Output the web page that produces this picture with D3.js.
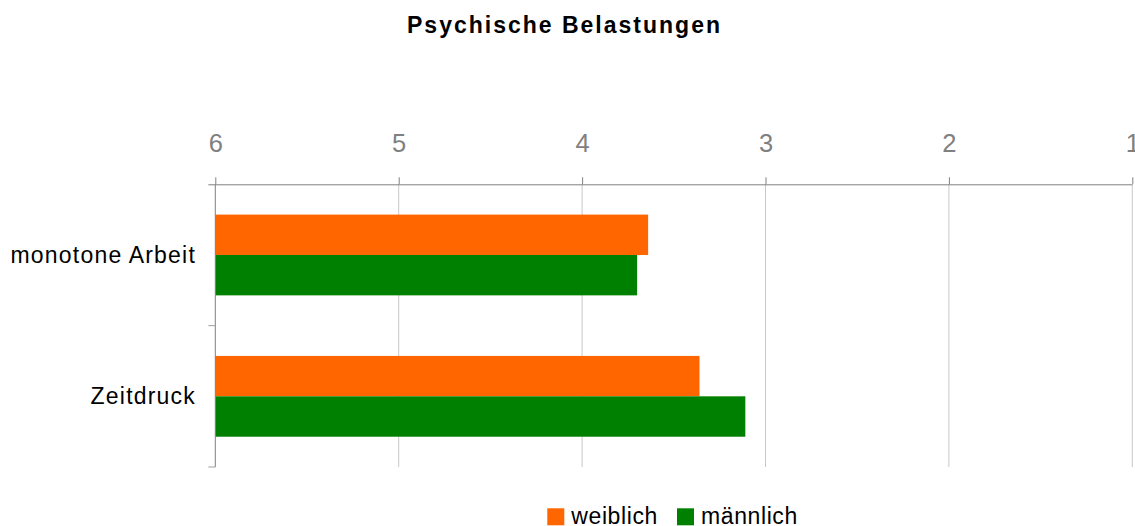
<!DOCTYPE html>
<html>
<head>
<meta charset="utf-8">
<script src="https://cdn.jsdelivr.net/npm/d3@7"></script>
<style>
  html, body { margin: 0; padding: 0; background: #fff; }
  svg { display: block; font-family: "Liberation Sans", Arial, sans-serif; }
</style>
</head>
<body>
<svg id="chart" width="1135" height="526"></svg>
<script>
// Average ratings of psychological strain (scale 6 → 1)
const categories = ["monotone Arbeit", "Zeitdruck"];
const seriesNames = ["weiblich", "männlich"];
const weiblich = [3.64, 3.36];
const maennlich = [3.70, 3.11];
const tickValues = [6, 5, 4, 3, 2, 1];
const colors = ["#ff6600", "#008000"];

const svg = d3.select("#chart");
const margin = { left: 215.3, right: 2.7, top: 184.3, bottom: 59 };
const W = 1135, H = 526;

const x = d3.scaleLinear()
  .domain([6, 1])
  .range([margin.left, W - margin.right]);

const y0 = d3.scaleBand()
  .domain(categories)
  .range([margin.top, H - margin.bottom])
  .padding(0);

const y1 = d3.scaleBand()
  .domain(seriesNames)
  .range([0, y0.bandwidth()])
  .paddingInner(0)
  .paddingOuter(0.75);

const rows = categories.map((c, i) => ({
  category: c,
  values: [
    { name: seriesNames[0], value: weiblich[i] },
    { name: seriesNames[1], value: maennlich[i] }
  ]
}));
const color = d3.scaleOrdinal().domain(seriesNames).range(colors);

// Title
svg.append("text")
  .attr("x", 564.5)
  .attr("y", 32.5)
  .attr("text-anchor", "middle")
  .style("font-size", "23px")
  .style("font-weight", "bold")
  .style("letter-spacing", "2px")
  .attr("fill", "#000")
  .text("Psychische Belastungen");

// Vertical gridlines
svg.append("g")
  .selectAll("line")
  .data(tickValues.filter(v => v !== 6))
  .join("line")
  .attr("x1", d => x(d)).attr("x2", d => x(d))
  .attr("y1", margin.top).attr("y2", H - margin.bottom)
  .attr("stroke", "#c8c8c8")
  .attr("stroke-width", 1);

// Bars
const groups = svg.append("g")
  .selectAll("g")
  .data(rows)
  .join("g")
  .attr("transform", d => `translate(0,${y0(d.category)})`);

groups.selectAll("rect")
  .data(d => d.values)
  .join("rect")
  .attr("x", x(6))
  .attr("y", d => y1(d.name))
  .attr("width", d => x(d.value) - x(6))
  .attr("height", y1.bandwidth())
  .attr("fill", d => color(d.name));

// Top value axis
const xAxis = d3.axisTop(x)
  .tickValues(tickValues)
  .tickSize(7)
  .tickPadding(25)
  .tickFormat(d3.format("d"));

const gx = svg.append("g")
  .attr("transform", `translate(0,${margin.top})`)
  .call(xAxis);
gx.select(".domain").attr("stroke", "#808080").attr("d", `M${margin.left - 7},0.5H${W - margin.right}`);
gx.selectAll(".tick line").attr("stroke", "#808080");
gx.selectAll(".tick text")
  .attr("fill", "#808080")
  .style("font-size", "25.5px")
  .style("font-family", "'Liberation Sans', Arial, sans-serif");

// Left category axis
const yAxisLine = svg.append("g");
yAxisLine.append("line")
  .attr("x1", margin.left).attr("x2", margin.left)
  .attr("y1", margin.top).attr("y2", H - margin.bottom)
  .attr("stroke", "#808080");
const boundaries = categories.map(c => y0(c)).concat([y0(categories[categories.length - 1]) + y0.bandwidth()]);
yAxisLine.selectAll(".ctick")
  .data(boundaries.slice(1))
  .join("line")
  .attr("class", "ctick")
  .attr("x1", margin.left - 7).attr("x2", margin.left)
  .attr("y1", d => d).attr("y2", d => d)
  .attr("stroke", "#a0a0a0");

yAxisLine.selectAll(".clabel")
  .data(categories)
  .join("text")
  .attr("class", "clabel")
  .attr("x", 196)
  .attr("y", d => y0(d) + y0.bandwidth() / 2 + 8)
  .attr("text-anchor", "end")
  .style("font-size", "23px")
  .style("letter-spacing", "1.2px")
  .attr("fill", "#000")
  .text(d => d);

// Legend
const legendX = [547.3, 677];
const legend = svg.append("g");
const items = legend.selectAll("g")
  .data(seriesNames)
  .join("g")
  .attr("transform", (d, i) => `translate(${legendX[i]},508.3)`);
items.append("rect")
  .attr("width", 17).attr("height", 17)
  .attr("fill", d => color(d));
items.append("text")
  .attr("x", 24).attr("y", 16)
  .style("font-size", "23px")
  .style("letter-spacing", "0.6px")
  .attr("fill", "#000")
  .text(d => d);
</script>
</body>
</html>
